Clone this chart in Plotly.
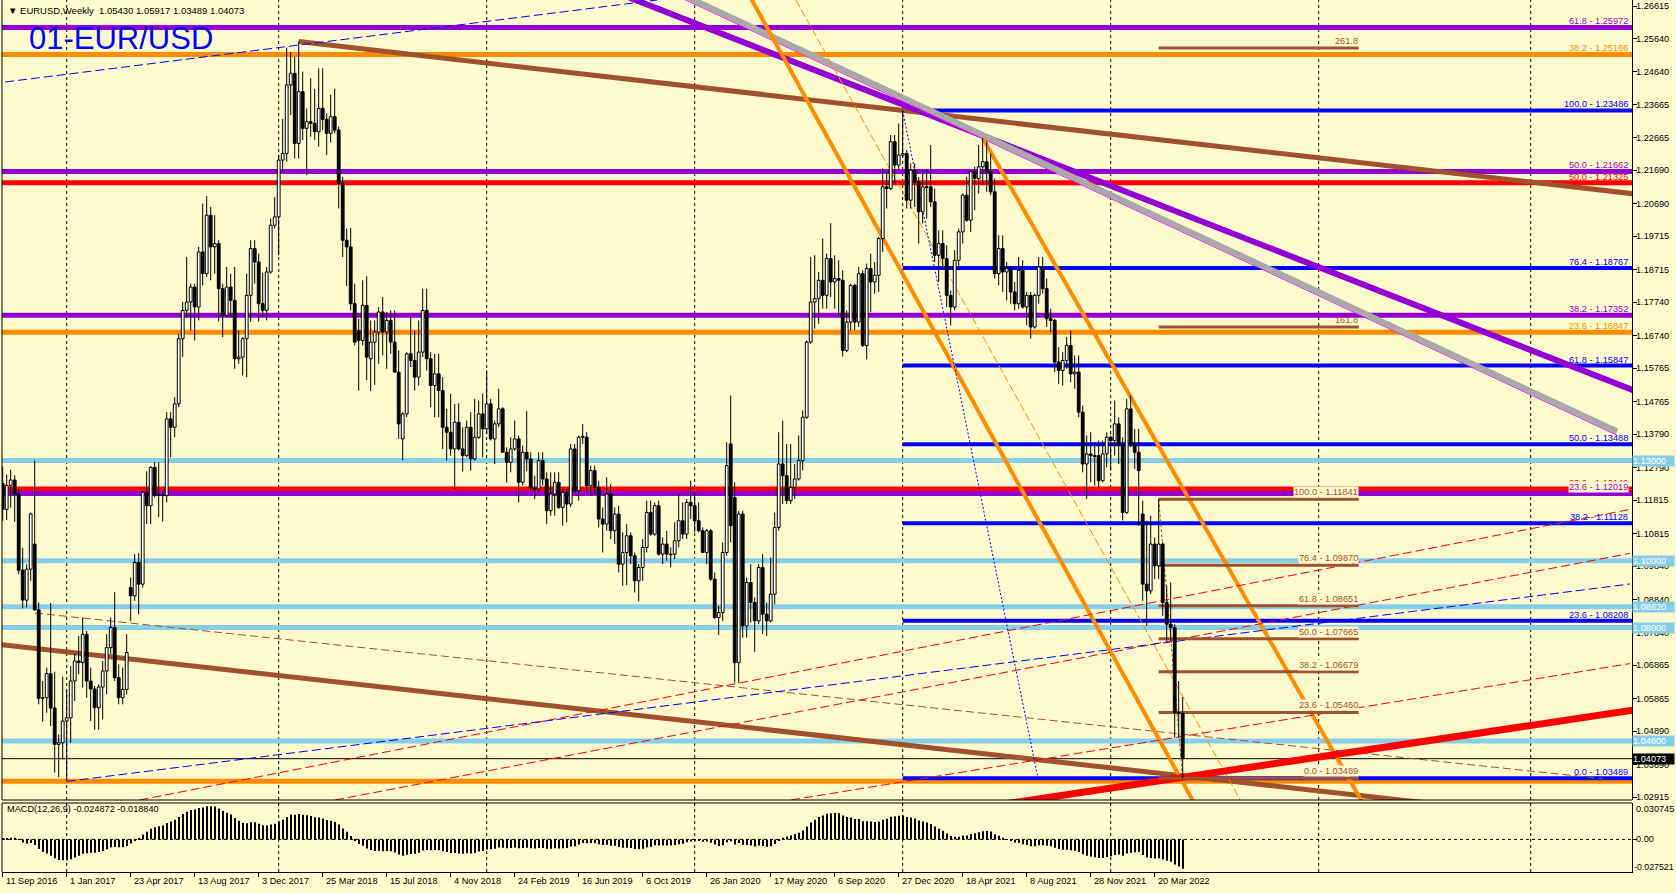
import plotly.graph_objects as go

BG = "#FFFACD"
PURPLE = "#9400D3"
ORANGE = "#FF8C00"
RED = "#FF0000"
BLUE = "#0000FF"
SKY = "#87CEEB"
BROWN = "#A0522D"
GREY = "#A9A9A9"
MAGENTA = "#FF00FF"
FONT = "Liberation Sans, Arial, sans-serif"
FS = 9.2

# EURUSD weekly bars, first bar = week of 11 Sep 2016, last = week of 8 May 2022
opens = [
    1.1232, 1.1154, 1.1226, 1.1242, 1.1200, 1.0972, 1.0882, 1.0975, 1.1050, 1.0853, 1.0588, 1.0590, 1.0662, 1.0559, 1.0450, 1.0455,
    1.0520, 1.0530, 1.0640, 1.0700, 1.0695, 1.0780, 1.0640, 1.0616, 1.0560, 1.0622, 1.0670, 1.0740, 1.0800, 1.0650, 1.0590, 1.0615,
    1.0920, 1.0895, 1.0995, 1.0930, 1.1205, 1.1165, 1.1280, 1.1196, 1.1197, 1.1195, 1.1425, 1.1400, 1.1470, 1.1665, 1.1750, 1.1775,
    1.1820, 1.1760, 1.1925, 1.1860, 1.2035, 1.1940, 1.1950, 1.1815, 1.1735, 1.1820, 1.1780, 1.1605, 1.1610, 1.1665, 1.1795, 1.1935,
    1.1895, 1.1770, 1.1750, 1.1865, 1.2005,
    1.2030, 1.2200, 1.2220, 1.2425, 1.2460, 1.2250, 1.2405, 1.2295, 1.2315, 1.2310, 1.2285, 1.2355, 1.2322, 1.2280, 1.2330, 1.2290,
    1.2130, 1.1960, 1.1940, 1.1770, 1.1690, 1.1660, 1.1765, 1.1605, 1.1655, 1.1685, 1.1745, 1.1685, 1.1720, 1.1655, 1.1565, 1.1365,
    1.1440, 1.1620, 1.1600, 1.1550, 1.1625, 1.1750, 1.1605, 1.1525, 1.1560, 1.1510, 1.1400, 1.1385, 1.1335, 1.1415, 1.1335, 1.1315,
    1.1400, 1.1305, 1.1370, 1.1440,
    1.1395, 1.1470, 1.1365, 1.1410, 1.1455, 1.1325, 1.1295, 1.1335, 1.1365, 1.1235, 1.1325, 1.1305, 1.1218, 1.1215, 1.1300, 1.1245,
    1.1150, 1.1200, 1.1235, 1.1160, 1.1205, 1.1170, 1.1335, 1.1210, 1.1370, 1.1370, 1.1225, 1.1270, 1.1220, 1.1125, 1.1110, 1.1200,
    1.1090, 1.1140, 1.0990, 1.1025, 1.1075, 1.1015, 1.0940, 1.0980, 1.1040, 1.1145, 1.1080, 1.1165, 1.1020, 1.1050, 1.1020, 1.1020,
    1.1060, 1.1120, 1.1080, 1.1175,
    1.1165, 1.1120, 1.1090, 1.1025, 1.1090, 1.0945, 1.0830, 1.0845, 1.1025, 1.1350, 1.1190, 1.0695, 1.1140, 1.0805, 1.0935, 1.0875,
    1.0820, 1.0980, 1.0840, 1.0820, 1.0900, 1.1100, 1.1290, 1.1255, 1.1180, 1.1220, 1.1245, 1.1300, 1.1430, 1.1655, 1.1775, 1.1785,
    1.1840, 1.1795, 1.1905, 1.1835, 1.1845, 1.1840, 1.1630, 1.1715, 1.1825, 1.1715, 1.1860, 1.1645, 1.1875, 1.1835, 1.1855, 1.1965,
    1.2120, 1.2115, 1.2255, 1.2185,
    1.2215, 1.2220, 1.2080, 1.2170, 1.2135, 1.2045, 1.2120, 1.2120, 1.2075, 1.1915, 1.1950, 1.1905, 1.1795, 1.1760, 1.1900, 1.1985,
    1.2095, 1.2020, 1.2165, 1.2145, 1.2180, 1.2195, 1.2165, 1.2105, 1.1860, 1.1935, 1.1865, 1.1875, 1.1805, 1.1770, 1.1870, 1.1760,
    1.1795, 1.1700, 1.1795, 1.1880, 1.1815, 1.1725, 1.1720, 1.1595, 1.1570, 1.1600, 1.1645, 1.1560, 1.1565, 1.1445, 1.1290, 1.1320,
    1.1315, 1.1315, 1.1240, 1.1320,
    1.1370, 1.1360, 1.1410, 1.1345, 1.1145, 1.1455, 1.1350, 1.1325, 1.1140, 1.0930, 1.0910, 1.1050, 1.0985, 1.1050, 1.0875, 1.0810,
    1.0800, 1.0545, 1.05430,
]
highs = [
    1.1283, 1.1258, 1.1273, 1.1256, 1.1215, 1.1039, 1.0990, 1.1145, 1.1300, 1.0875, 1.0640, 1.0680, 1.0874, 1.0668, 1.0480, 1.0653,
    1.0610, 1.0685, 1.0720, 1.0775, 1.0830, 1.0790, 1.0680, 1.0625, 1.0630, 1.0700, 1.0780, 1.0830, 1.0906, 1.0690, 1.0680, 1.0780,
    1.0950, 1.1020, 1.1023, 1.1210, 1.1268, 1.1283, 1.1296, 1.1295, 1.1210, 1.1445, 1.1445, 1.1490, 1.1680, 1.1776, 1.1910, 1.1830,
    1.1830, 1.1940, 1.2070, 1.2092, 1.2060, 1.2035, 1.1960, 1.1830, 1.1880, 1.1860, 1.1880, 1.1690, 1.1670, 1.1860, 1.1960, 1.1960,
    1.1920, 1.1863, 1.1880, 1.2025, 1.2089,
    1.2215, 1.2323, 1.2537, 1.2523, 1.2510, 1.2555, 1.2465, 1.2355, 1.2445, 1.2413, 1.2475, 1.2475, 1.2340, 1.2396, 1.2414, 1.2300,
    1.2150, 1.1995, 1.1997, 1.1830, 1.1725, 1.1840, 1.1852, 1.1720, 1.1720, 1.1760, 1.1790, 1.1745, 1.1750, 1.1750, 1.1630, 1.1445,
    1.1625, 1.1735, 1.1690, 1.1720, 1.1815, 1.1815, 1.1625, 1.1620, 1.1620, 1.1550, 1.1455, 1.1500, 1.1470, 1.1472, 1.1400, 1.1420,
    1.1445, 1.1485, 1.1480, 1.1500,
    1.1570, 1.1485, 1.1420, 1.1515, 1.1460, 1.1340, 1.1370, 1.1420, 1.1375, 1.1345, 1.1448, 1.1325, 1.1255, 1.1325, 1.1325, 1.1265,
    1.1265, 1.1265, 1.1265, 1.1215, 1.1215, 1.1350, 1.1350, 1.1375, 1.1410, 1.1385, 1.1285, 1.1285, 1.1240, 1.1160, 1.1250, 1.1230,
    1.1160, 1.1165, 1.1085, 1.1110, 1.1085, 1.1025, 1.0990, 1.1065, 1.1180, 1.1180, 1.1175, 1.1180, 1.1070, 1.1090, 1.1040, 1.1115,
    1.1200, 1.1175, 1.1185, 1.1240,
    1.1205, 1.1175, 1.1100, 1.1095, 1.1095, 1.0965, 1.0865, 1.1055, 1.1355, 1.1495, 1.1235, 1.1150, 1.1150, 1.0950, 1.0990, 1.0890,
    1.0990, 1.1020, 1.0875, 1.1010, 1.1145, 1.1385, 1.1420, 1.1350, 1.1350, 1.1290, 1.1375, 1.1450, 1.1660, 1.1910, 1.1915, 1.1865,
    1.1965, 1.1920, 1.2011, 1.1915, 1.1900, 1.1870, 1.1750, 1.1830, 1.1830, 1.1880, 1.1870, 1.1890, 1.1920, 1.1895, 1.1970, 1.2175,
    1.2165, 1.2275, 1.2275, 1.2310,
    1.2349, 1.2230, 1.2190, 1.2190, 1.2150, 1.2170, 1.2170, 1.2245, 1.2115, 1.1990, 1.1990, 1.1945, 1.1810, 1.1930, 1.1995, 1.2100,
    1.2150, 1.2170, 1.2180, 1.2245, 1.2266, 1.2255, 1.2220, 1.2145, 1.1975, 1.1975, 1.1895, 1.1880, 1.1835, 1.1910, 1.1900, 1.1805,
    1.1805, 1.1800, 1.1910, 1.1910, 1.1845, 1.1755, 1.1725, 1.1640, 1.1625, 1.1670, 1.1690, 1.1615, 1.1615, 1.1465, 1.1375, 1.1385,
    1.1355, 1.1360, 1.1360, 1.1385,
    1.1375, 1.1480, 1.1430, 1.1370, 1.1485, 1.1495, 1.1395, 1.1395, 1.1180, 1.1120, 1.1135, 1.1070, 1.1185, 1.1055, 1.0925, 1.0935,
    1.0810, 1.0640, 1.05917,
]
lows = [
    1.1120, 1.1122, 1.1159, 1.1117, 1.0960, 1.0858, 1.0860, 1.0940, 1.0850, 1.0570, 1.0518, 1.0545, 1.0505, 1.0366, 1.0352, 1.0405,
    1.0340, 1.0455, 1.0580, 1.0660, 1.0620, 1.0590, 1.0520, 1.0494, 1.0494, 1.0525, 1.0600, 1.0720, 1.0640, 1.0570, 1.0570, 1.0600,
    1.0820, 1.0880, 1.0840, 1.0920, 1.1110, 1.1110, 1.1190, 1.1131, 1.1118, 1.1175, 1.1310, 1.1370, 1.1460, 1.1610, 1.1728, 1.1690,
    1.1660, 1.1720, 1.1825, 1.1850, 1.1840, 1.1860, 1.1717, 1.1670, 1.1730, 1.1730, 1.1575, 1.1590, 1.1555, 1.1550, 1.1715, 1.1830,
    1.1717, 1.1730, 1.1720, 1.1860, 1.1995,
    1.1915, 1.2165, 1.2195, 1.2335, 1.2205, 1.2205, 1.2260, 1.2155, 1.2270, 1.2260, 1.2240, 1.2290, 1.2215, 1.2253, 1.2280, 1.2055,
    1.1910, 1.1823, 1.1750, 1.1645, 1.1510, 1.1645, 1.1541, 1.1508, 1.1527, 1.1590, 1.1615, 1.1575, 1.1620, 1.1565, 1.1365, 1.1301,
    1.1430, 1.1580, 1.1510, 1.1525, 1.1610, 1.1570, 1.1460, 1.1430, 1.1430, 1.1335, 1.1300, 1.1315, 1.1215, 1.1330, 1.1267, 1.1310,
    1.1270, 1.1300, 1.1365, 1.1310,
    1.1380, 1.1360, 1.1290, 1.1400, 1.1325, 1.1234, 1.1265, 1.1330, 1.1175, 1.1225, 1.1268, 1.1210, 1.1185, 1.1205, 1.1225, 1.1110,
    1.1135, 1.1135, 1.1155, 1.1105, 1.1115, 1.1160, 1.1205, 1.1180, 1.1350, 1.1205, 1.1195, 1.1200, 1.1100, 1.1025, 1.1090, 1.1065,
    1.1050, 1.0965, 1.0925, 1.0927, 1.0990, 1.0905, 1.0879, 1.0940, 1.1025, 1.1075, 1.1075, 1.1015, 1.0990, 1.1000, 1.0980, 1.1005,
    1.1040, 1.1065, 1.1065, 1.1125,
    1.1085, 1.1085, 1.1025, 1.0990, 1.0940, 1.0825, 1.0778, 1.0820, 1.1015, 1.1055, 1.0635, 1.0635, 1.0770, 1.0770, 1.0815, 1.0727,
    1.0810, 1.0780, 1.0775, 1.0815, 1.0870, 1.1090, 1.1170, 1.1170, 1.1170, 1.1185, 1.1240, 1.1270, 1.1425, 1.1650, 1.1695, 1.1710,
    1.1755, 1.1755, 1.1790, 1.1755, 1.1735, 1.1612, 1.1625, 1.1690, 1.1690, 1.1700, 1.1640, 1.1603, 1.1745, 1.1800, 1.1805, 1.1925,
    1.2055, 1.2110, 1.2130, 1.2170,
    1.2210, 1.2055, 1.2055, 1.2060, 1.1950, 1.2010, 1.2025, 1.2060, 1.1895, 1.1835, 1.1875, 1.1760, 1.1705, 1.1750, 1.1870, 1.1950,
    1.2015, 1.1985, 1.2050, 1.2100, 1.2130, 1.2105, 1.2095, 1.1845, 1.1825, 1.1805, 1.1780, 1.1770, 1.1750, 1.1755, 1.1755, 1.1705,
    1.1665, 1.1695, 1.1770, 1.1800, 1.1700, 1.1685, 1.1565, 1.1530, 1.1525, 1.1575, 1.1535, 1.1515, 1.1430, 1.1265, 1.1185, 1.1235,
    1.1225, 1.1220, 1.1235, 1.1280,
    1.1270, 1.1315, 1.1290, 1.1121, 1.1140, 1.1340, 1.1275, 1.1105, 1.0880, 1.0805, 1.0900, 1.0945, 1.0945, 1.0835, 1.0760, 1.0760,
    1.0470, 1.0470, 1.03489,
]
closes = [
    1.1154, 1.1226, 1.1242, 1.1200, 1.0972, 1.0882, 1.0975, 1.1140, 1.0853, 1.0588, 1.0590, 1.0662, 1.0559, 1.0450, 1.0455, 1.0520,
    1.0530, 1.0640, 1.0700, 1.0695, 1.0780, 1.0640, 1.0616, 1.0560, 1.0622, 1.0670, 1.0740, 1.0800, 1.0650, 1.0590, 1.0615, 1.0725,
    1.0895, 1.0995, 1.0930, 1.1205, 1.1165, 1.1280, 1.1196, 1.1197, 1.1195, 1.1425, 1.1400, 1.1470, 1.1665, 1.1750, 1.1775, 1.1820,
    1.1760, 1.1925, 1.1860, 1.2035, 1.1940, 1.1950, 1.1815, 1.1735, 1.1820, 1.1780, 1.1605, 1.1610, 1.1665, 1.1795, 1.1935, 1.1895,
    1.1770, 1.1750, 1.1865, 1.2005, 1.2030,
    1.2200, 1.2220, 1.2425, 1.2460, 1.2250, 1.2405, 1.2295, 1.2315, 1.2310, 1.2285, 1.2355, 1.2322, 1.2280, 1.2330, 1.2290, 1.2130,
    1.1960, 1.1940, 1.1770, 1.1655, 1.1660, 1.1765, 1.1610, 1.1655, 1.1685, 1.1745, 1.1685, 1.1720, 1.1655, 1.1565, 1.1410, 1.1440,
    1.1620, 1.1600, 1.1550, 1.1625, 1.1750, 1.1605, 1.1525, 1.1560, 1.1510, 1.1400, 1.1385, 1.1335, 1.1415, 1.1335, 1.1315, 1.1400,
    1.1305, 1.1370, 1.1440, 1.1395,
    1.1470, 1.1365, 1.1410, 1.1455, 1.1325, 1.1295, 1.1335, 1.1365, 1.1235, 1.1325, 1.1305, 1.1218, 1.1215, 1.1300, 1.1245, 1.1150,
    1.1200, 1.1235, 1.1160, 1.1205, 1.1170, 1.1335, 1.1210, 1.1370, 1.1373, 1.1225, 1.1270, 1.1220, 1.1125, 1.1110, 1.1200, 1.1090,
    1.1140, 1.0990, 1.1025, 1.1075, 1.1015, 1.0940, 1.0980, 1.1040, 1.1145, 1.1080, 1.1165, 1.1020, 1.1050, 1.1020, 1.1018, 1.1060,
    1.1120, 1.1080, 1.1175, 1.1165,
    1.1120, 1.1090, 1.1025, 1.1090, 1.0945, 1.0830, 1.0845, 1.1025, 1.1285, 1.1105, 1.0695, 1.1140, 1.0805, 1.0935, 1.0875, 1.0820,
    1.0980, 1.0840, 1.0820, 1.0900, 1.1100, 1.1290, 1.1255, 1.1180, 1.1220, 1.1245, 1.1300, 1.1430, 1.1655, 1.1775, 1.1785, 1.1840,
    1.1795, 1.1905, 1.1835, 1.1845, 1.1840, 1.1630, 1.1715, 1.1825, 1.1715, 1.1860, 1.1645, 1.1875, 1.1835, 1.1855, 1.1965, 1.2120,
    1.2115, 1.2255, 1.2185, 1.2215,
    1.2220, 1.2080, 1.2170, 1.2135, 1.2045, 1.2120, 1.2118, 1.2075, 1.1915, 1.1950, 1.1905, 1.1795, 1.1760, 1.1900, 1.1985, 1.2095,
    1.2020, 1.2165, 1.2145, 1.2180, 1.2195, 1.2165, 1.2105, 1.1860, 1.1935, 1.1865, 1.1875, 1.1805, 1.1770, 1.1870, 1.1760, 1.1795,
    1.1700, 1.1795, 1.1880, 1.1815, 1.1725, 1.1720, 1.1595, 1.1570, 1.1600, 1.1645, 1.1560, 1.1565, 1.1445, 1.1290, 1.1320, 1.1315,
    1.1312, 1.1240, 1.1320, 1.1370,
    1.1360, 1.1410, 1.1345, 1.1145, 1.1455, 1.1350, 1.1325, 1.1270, 1.0930, 1.0910, 1.1050, 1.0985, 1.1050, 1.0875, 1.0810, 1.0800,
    1.0545, 1.0543, 1.04073,
]
# MACD(12,26,9) main values, one per weekly bar
macd = [
    0.0007, 0.0011, 0.0015, 0.0014, -0.0005, -0.0027, -0.0036, -0.0030, -0.0047, -0.0081, -0.0107, -0.0120, -0.0138, -0.0159, -0.0173, -0.0177,
    -0.0177, -0.0167, -0.0152, -0.0139, -0.0121, -0.0116, -0.0113, -0.0113, -0.0107, -0.0098, -0.0084, -0.0067, -0.0065, -0.0067, -0.0066, -0.0056,
    -0.0034, -0.0008, 0.0007, 0.0041, 0.0064, 0.0091, 0.0103, 0.0112, 0.0118, 0.0139, 0.0152, 0.0166, 0.0190, 0.0215, 0.0233, 0.0249,
    0.0253, 0.0266, 0.0269, 0.0281, 0.0281, 0.0278, 0.0261, 0.0239, 0.0226, 0.0210, 0.0181, 0.0157, 0.0141, 0.0137, 0.0144, 0.0144,
    0.0132, 0.0119, 0.0118, 0.0126, 0.0133, 0.0151, 0.0165, 0.0190, 0.0211, 0.0208, 0.0215, 0.0209, 0.0204, 0.0198, 0.0188, 0.0184,
    0.0176, 0.0164, 0.0157, 0.0147, 0.0125, 0.0092, 0.0064, 0.0028, -0.0010, -0.0039, -0.0053, -0.0076, -0.0090, -0.0097, -0.0096, -0.0099,
    -0.0098, -0.0101, -0.0110, -0.0128, -0.0138, -0.0130, -0.0124, -0.0121, -0.0112, -0.0093, -0.0089, -0.0091, -0.0089, -0.0091, -0.0100, -0.0107,
    -0.0115, -0.0114, -0.0118, -0.0122, -0.0117, -0.0119, -0.0114, -0.0103, -0.0097, -0.0085, -0.0084, -0.0078, -0.0068, -0.0070, -0.0074, -0.0073,
    -0.0069, -0.0075, -0.0072, -0.0070, -0.0074, -0.0077, -0.0072, -0.0072, -0.0079, -0.0079, -0.0075, -0.0077, -0.0074, -0.0073, -0.0060, -0.0058,
    -0.0043, -0.0030, -0.0032, -0.0030, -0.0032, -0.0041, -0.0048, -0.0046, -0.0053, -0.0054, -0.0065, -0.0070, -0.0070, -0.0073, -0.0081, -0.0083,
    -0.0079, -0.0067, -0.0062, -0.0050, -0.0052, -0.0051, -0.0051, -0.0052, -0.0048, -0.0040, -0.0036, -0.0025, -0.0017, -0.0014, -0.0014, -0.0019,
    -0.0018, -0.0028, -0.0044, -0.0055, -0.0049, -0.0023, -0.0016, -0.0044, -0.0030, -0.0046, -0.0047, -0.0052, -0.0059, -0.0051, -0.0056, -0.0061,
    -0.0057, -0.0038, -0.0007, 0.0014, 0.0024, 0.0035, 0.0045, 0.0057, 0.0076, 0.0108, 0.0142, 0.0167, 0.0189, 0.0201, 0.0217, 0.0221,
    0.0223, 0.0221, 0.0201, 0.0189, 0.0186, 0.0173, 0.0173, 0.0153, 0.0154, 0.0151, 0.0147, 0.0152, 0.0166, 0.0175, 0.0191, 0.0196,
    0.0200, 0.0201, 0.0189, 0.0184, 0.0176, 0.0160, 0.0152, 0.0143, 0.0131, 0.0108, 0.0091, 0.0074, 0.0050, 0.0028, 0.0022, 0.0023,
    0.0033, 0.0034, 0.0046, 0.0053, 0.0061, 0.0068, 0.0070, 0.0067, 0.0043, 0.0031, 0.0015, 0.0003, -0.0012, -0.0027, -0.0030, -0.0041,
    -0.0047, -0.0058, -0.0058, -0.0050, -0.0049, -0.0054, -0.0058, -0.0071, -0.0082, -0.0087, -0.0087, -0.0092, -0.0095, -0.0106, -0.0126, -0.0137,
    -0.0145, -0.0150, -0.0157, -0.0156, -0.0149, -0.0142, -0.0131, -0.0127, -0.0138, -0.0120, -0.0113, -0.0108, -0.0107, -0.0132, -0.0153, -0.0156,
    -0.0162, -0.0159, -0.0169, -0.0181, -0.0188, -0.0212, -0.0229, -0.024872,
]

# time axis (bar index) labels and yearly grid
label_bars = [0, 16, 32, 48, 64, 80, 96, 112, 128, 144, 160, 176, 192, 208, 224, 240, 256, 272, 288]
label_text = ["11 Sep 2016", "1 Jan 2017", "23 Apr 2017", "13 Aug 2017", "3 Dec 2017", "25 Mar 2018",
              "15 Jul 2018", "4 Nov 2018", "24 Feb 2019", "16 Jun 2019", "6 Oct 2019", "26 Jan 2020",
              "17 May 2020", "6 Sep 2020", "27 Dec 2020", "18 Apr 2021", "8 Aug 2021", "28 Nov 2021", "20 Mar 2022"]
grid_bars = [16, 69, 121, 173, 225, 277, 329, 382]

price_ticks = [1.26615, 1.25640, 1.24640, 1.23665, 1.22665, 1.21690, 1.20690, 1.19715, 1.18715, 1.17740,
               1.16740, 1.15765, 1.14765, 1.13790, 1.12790, 1.11815, 1.10815, 1.09840, 1.08840, 1.07840,
               1.06865, 1.05865, 1.04890, 1.03890, 1.02915]
macd_top, macd_bottom = 0.030745, -0.027521

# horizontal levels
purple_lv = [1.25972, 1.21662, 1.17352, 1.12019]
purple_pct = ["61.8", "50.0", "38.2", "23.6"]
orange_lv = [1.25166, 1.16847, 1.03400]
orange_pct = ["38.2", "23.6", None]
red_lv = [1.21325, 1.12149]
red_pct = ["50.0", "23.6"]
blue_lv = [1.23486, 1.18767, 1.15847, 1.13488, 1.11128, 1.08208, 1.03489]
blue_pct = ["100.0", "76.4", "61.8", "50.0", "38.2", "23.6", "0.0"]
blue_from = 225
sky_lv = [1.13000, 1.10000, 1.08620, 1.08000, 1.04600]
brown_lv = [1.11841, 1.09870, 1.08651, 1.07665, 1.06679, 1.05460, 1.03489]
brown_pct = ["100.0", "76.4", "61.8", "50.0", "38.2", "23.6", "0.0"]
brown_ext_lv = [1.17003, 1.25355]
brown_ext_pct = ["161.8", "261.8"]
brown_from, brown_to = 289, 339
last_price = 1.04073

# trend lines: (bar0, price0, bar1, price1)
brown_top = (74, 1.2555, 410, 1.2096)
brown_bottom = (-2, 1.0751, 410, 1.0203)
brown_mid = (8.1, 1.08436, 400.1, 1.03474)
purple_diag = (150, 1.2718, 410, 1.1500)
grey_diag = (165, 1.2723, 403.6, 1.1387)
orange_a = (180, 1.2838, 300, 1.0228)
orange_b = (245, 1.2266, 342, 1.0233)
orange_thin = (198.3, 1.26795, 309.4, 1.02836)
red_thick = (250, 1.0271, 410, 1.0557)
red_d1 = (34.2, 1.02836, 406.8, 1.11539)
red_d2 = (83.1, 1.02836, 406.8, 1.10221)
red_d3 = (197.1, 1.02836, 406.8, 1.06921)
blue_d1 = (0.6, 1.24339, 163.6, 1.26795)
blue_d2 = (16, 1.03392, 406.8, 1.09305)
blue_dot = (225, 1.23471, 258.8, 1.03495)
brown_fib_diag = (289, 1.11841, 295, 1.03489)

X0, X1 = -0.175, 407.325
EDGE = 406.6
MAIN_BOTTOM = 72 / 872
MACD_TOP = 69 / 872

fig = go.Figure()


def hline(p, color, width, x0=-2, x1=412):
    fig.add_shape(type="line", xref="x", yref="y", x0=x0, x1=x1, y0=p, y1=p,
                  line=dict(color=color, width=width), layer="below")


def tline(seg, color, width, dash="solid"):
    fig.add_shape(type="line", xref="x", yref="y", x0=seg[0], y0=seg[1], x1=seg[2], y1=seg[3],
                  line=dict(color=color, width=width, dash=dash), layer="below")


def label(text, p, color, x=EDGE, bg=None, shift=0):
    fig.add_annotation(x=x, y=p, xref="x", yref="y", text=text, showarrow=False,
                       xanchor="right", yanchor="bottom", yshift=shift, borderpad=0,
                       bgcolor=bg, font=dict(family=FONT, size=FS, color=color))


def axis_text(text, y, yref="y", color="black", bg=None, size=FS, xshift=3):
    fig.add_annotation(x=1, xref="paper", y=y, yref=yref, text=text, showarrow=False,
                       xanchor="left", yanchor="middle", xshift=xshift, borderpad=0,
                       bgcolor=bg, font=dict(family=FONT, size=size, color=color))


# full-width levels
for p in sky_lv:
    hline(p, SKY, 5)
for p in orange_lv:
    hline(p, ORANGE, 5)
for p in red_lv:
    hline(p, RED, 5)
for p in purple_lv:
    hline(p, PURPLE, 5)
for p in blue_lv:
    hline(p, BLUE, 4, x0=blue_from)
hline(last_price, "black", 1)

# diagonals
tline(brown_top, BROWN, 5)
tline(brown_bottom, BROWN, 5)
tline(brown_mid, BROWN, 1, "8px,4px")
tline(purple_diag, PURPLE, 6)
tline((grey_diag[0], grey_diag[1] - 0.0011, grey_diag[2], grey_diag[3] - 0.0011), MAGENTA, 1)
tline(grey_diag, GREY, 6)
tline(orange_a, ORANGE, 4)
tline(orange_b, ORANGE, 4)
tline(orange_thin, ORANGE, 1, "8px,3px")
tline(red_d1, RED, 1, "9px,4px")
tline(red_d2, RED, 1, "9px,4px")
tline(red_d3, RED, 1, "9px,4px")
tline(blue_d1, BLUE, 1, "9px,4px")
tline(blue_d2, BLUE, 1, "9px,4px")
tline(blue_dot, BLUE, 1, "2px,2px")
tline(red_thick, RED, 7)

# small fib
for p in brown_lv + brown_ext_lv:
    hline(p, BROWN, 3, x0=brown_from, x1=brown_to)
tline(brown_fib_diag, BROWN, 1, "3px,2px")

# year separators
for b in grid_bars:
    fig.add_shape(type="line", xref="x", yref="paper", x0=b, x1=b, y0=0, y1=1,
                  line=dict(color="black", width=1, dash="3px,3px"), layer="below")
# macd zero line
fig.add_shape(type="line", xref="x", yref="y2", x0=X0, x1=X1, y0=0, y1=0,
              line=dict(color="black", width=1, dash="3px,3px"), layer="below")

# candles
idx = list(range(len(closes)))
wx, wy = [], []
for i in idx:
    top, bot = max(opens[i], closes[i]), min(opens[i], closes[i])
    wx += [i, i, None, i, i, None]
    wy += [highs[i], top, None, bot, lows[i], None]
fig.add_trace(go.Scatter(x=wx, y=wy, mode="lines", line=dict(color="black", width=1),
                         hoverinfo="skip", showlegend=False))
up = [i for i in idx if closes[i] >= opens[i]]
dn = [i for i in idx if closes[i] < opens[i]]
fig.add_trace(go.Bar(x=up, base=[opens[i] for i in up],
                     y=[max(closes[i] - opens[i], 0.00004) for i in up], width=0.7,
                     marker=dict(color="white", line=dict(color="black", width=1)), showlegend=False))
fig.add_trace(go.Bar(x=dn, base=[closes[i] for i in dn],
                     y=[max(opens[i] - closes[i], 0.00004) for i in dn], width=0.7,
                     marker=dict(color="black", line=dict(color="black", width=1)), showlegend=False))

# MACD histogram
fig.add_trace(go.Bar(x=idx, y=macd, yaxis="y2", width=0.3,
                     marker=dict(color="black", line=dict(width=0)), showlegend=False))

# labels of levels
for p, t in zip(red_lv, red_pct):
    label(f"{t} - {p:.5f}", p, RED)
for p, t in zip(orange_lv, orange_pct):
    if t:
        label(f"{t} - {p:.5f}", p, ORANGE)
for p, t in zip(purple_lv, purple_pct):
    label(f"{t} - {p:.5f}", p, PURPLE, bg=BG if t == "23.6" else None)
for p, t in zip(blue_lv, blue_pct):
    label(f"{t} - {p:.5f}", p, BLUE)
for p, t in zip(brown_lv, brown_pct):
    label(f"{t} - {p:.5f}", p, BROWN, x=brown_to, bg=BG, shift=1)
for p, t in zip(brown_ext_lv, brown_ext_pct):
    label(t, p, BROWN, x=brown_to, shift=1)

# price scale texts
for v in price_ticks:
    axis_text(f"{v:.5f}", v)
axis_text(f"{macd_top:.6f}", (872 - 809) / 872, yref="paper")
axis_text("0.00", 0, yref="y2")
axis_text(f"{macd_bottom:.6f}", (872 - 866.5) / 872, yref="paper", size=8.8, xshift=1)

# price boxes on the axis
for p in sky_lv:
    fig.add_annotation(x=1, xref="paper", y=p, yref="y", text=f"{p:.5f}", showarrow=False,
                       xanchor="left", yanchor="middle", bgcolor=SKY, width=41, align="left",
                       borderpad=0, font=dict(family=FONT, size=FS, color="white"))
fig.add_annotation(x=1, xref="paper", y=last_price, yref="y", text=f"{last_price:.5f}", showarrow=False,
                   xanchor="left", yanchor="middle", bgcolor="black", width=41, align="left",
                   borderpad=0, font=dict(family=FONT, size=FS, color="white"))

# time labels
for b, t in zip(label_bars, label_text):
    fig.add_annotation(x=b, xref="x", y=0, yref="paper", text=t, showarrow=False, xanchor="left",
                       yanchor="top", yshift=-2, xshift=1, font=dict(family=FONT, size=FS, color="black"))

# headers
fig.add_annotation(x=0, xref="paper", y=1 - 11 / 872, yref="paper", xshift=4, showarrow=False,
                   xanchor="left", yanchor="middle",
                   text="▼ EURUSD,Weekly  1.05430 1.05917 1.03489 1.04073",
                   font=dict(family=FONT, size=9.5, color="black"))
fig.add_annotation(x=0, xref="paper", y=1 - 39 / 872, yref="paper", xshift=25, showarrow=False,
                   xanchor="left", yanchor="middle", text="01-EUR/USD",
                   font=dict(family="Liberation Sans, Arial", size=31, color=BLUE))
fig.add_annotation(x=0, xref="paper", y=(872 - 809) / 872, yref="paper", xshift=3, showarrow=False,
                   xanchor="left", yanchor="middle", text="MACD(12,26,9) -0.024872 -0.018840",
                   font=dict(family=FONT, size=FS, color="black"))

# panel frames
for y in (MAIN_BOTTOM, MACD_TOP):
    fig.add_shape(type="line", xref="paper", yref="paper", x0=0, x1=1, y0=y, y1=y,
                  line=dict(color="black", width=1))
fig.add_shape(type="line", xref="paper", yref="paper", x0=0, x1=0, y0=MAIN_BOTTOM, y1=1,
              line=dict(color="black", width=1))
fig.add_shape(type="line", xref="paper", yref="paper", x0=0, x1=0, y0=0, y1=MACD_TOP,
              line=dict(color="black", width=1))

fig.update_layout(
    width=1676, height=893,
    margin=dict(l=2, r=44, t=0, b=21),
    paper_bgcolor=BG, plot_bgcolor=BG,
    barmode="overlay", showlegend=False,
    xaxis=dict(range=[X0, X1], anchor="y2", showgrid=False, zeroline=False, showline=True,
               linecolor="black", linewidth=1, ticks="outside", ticklen=4, tickcolor="black",
               tickvals=label_bars, showticklabels=False, fixedrange=True),
    yaxis=dict(domain=[MAIN_BOTTOM, 1], range=[1.02836, 1.26795], side="right", anchor="x",
               showgrid=False, zeroline=False, showline=True, linecolor="black", linewidth=1,
               ticks="outside", ticklen=4, tickcolor="black", tickvals=price_ticks,
               showticklabels=False, fixedrange=True),
    yaxis2=dict(domain=[0, MACD_TOP], range=[macd_bottom, macd_top], side="right", anchor="x",
                showgrid=False, zeroline=False, showline=True, linecolor="black", linewidth=1,
                ticks="outside", ticklen=4, tickcolor="black", tickvals=[0],
                showticklabels=False, fixedrange=True),
)

# the page's default body margin would push the 1676x893 figure off the window
fig.write_html("out.html", config={"displayModeBar": False},
               post_script="document.body.style.margin='0';document.body.style.overflow='hidden';")
